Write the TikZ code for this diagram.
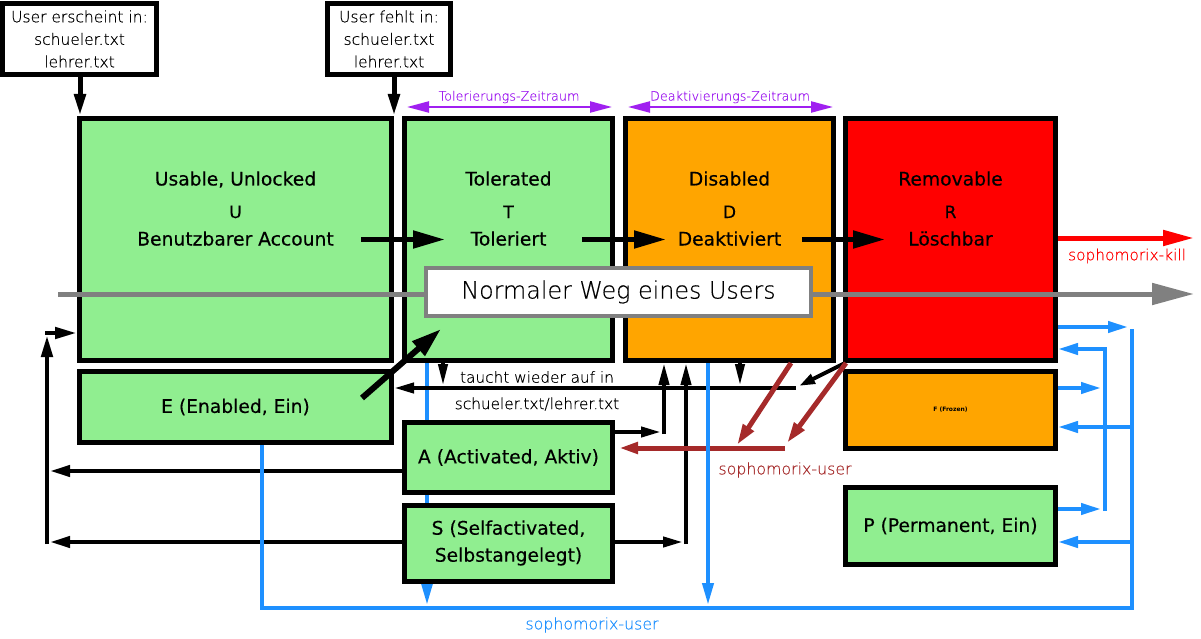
\documentclass[tikz,border=0pt]{standalone}
\usepackage{fontspec}
\setmainfont{DejaVu Sans}
\newfontfamily\lightfont{DejaVu Sans ExtraLight}[FakeBold=0.35]
\newfontfamily\boxfont{DejaVu Sans}[FakeBold=0.35]
\usetikzlibrary{arrows.meta}
\definecolor{lgreen}{HTML}{90EE90}
\definecolor{orng}{HTML}{FFA500}
\definecolor{dblue}{HTML}{1E90FF}
\definecolor{brwn}{HTML}{A52A2A}
\definecolor{purp}{HTML}{A020F0}
\definecolor{grayl}{HTML}{808080}
\begin{document}
\begin{tikzpicture}[x=1pt,y=-1pt,
  box/.style={draw=black,line width=5pt,inner sep=0pt,align=center},
  bigf/.style={font=\boxfont\fontsize{18.7}{27}\selectfont},
  midf/.style={font=\boxfont\fontsize{17}{18}\selectfont},
  lightf/.style={font=\lightfont\fontsize{15.8}{22}\selectfont},
  txt/.style={inner sep=0pt,anchor=base},
  hd/.style={-{Triangle[length=22pt,width=11pt]}},
  bighd/.style={-{Triangle[length=32pt,width=17pt]}},
  blk/.style={draw=black,line width=4.5pt},
  thick5/.style={draw=black,line width=5pt},
  bl/.style={draw=dblue,line width=4pt},
  brl/.style={draw=brwn,line width=5pt},
  brhd/.style={-{Triangle[length=21pt,width=12pt]}},
]
\useasboundingbox (0,0) rectangle (1201,639);

% main boxes
\node[box,fill=white,minimum width=154pt,minimum height=71pt,font=\lightfont\fontsize{15.5}{22.5}\selectfont] (top1) at (79.5,39) {User erscheint in:\\schueler.txt\\lehrer.txt};
\node[box,fill=white,minimum width=123pt,minimum height=71pt,font=\lightfont\fontsize{15.5}{22.5}\selectfont] (top2) at (389,39) {User fehlt in:\\schueler.txt\\lehrer.txt};
\node[box,fill=lgreen,minimum width=312pt,minimum height=242pt] (U) at (235.5,239.5) {};
\node[box,fill=lgreen,minimum width=208pt,minimum height=242pt] (T) at (508.5,239.5) {};
\node[box,fill=orng,minimum width=208pt,minimum height=242pt] (D) at (729.5,239.5) {};
\node[box,fill=red,minimum width=210pt,minimum height=242pt] (R) at (950.5,239.5) {};
\node[box,fill=lgreen,minimum width=312pt,minimum height=71pt,bigf] (E) at (235.5,407) {E (Enabled, Ein)};
\node[box,fill=orng,minimum width=210pt,minimum height=77pt,font=\fontsize{6}{7}\selectfont\bfseries] (F) at (950.5,410) {F (Frozen)};
\node[box,fill=lgreen,minimum width=210pt,minimum height=77pt,bigf] (P) at (950.5,526) {P (Permanent, Ein)};

% blue line from T (behind A and S)
\coordinate (tb) at (427,605);
\draw[bl,hd] (tb |- T.south) -- (tb);

\node[box,fill=lgreen,minimum width=208pt,minimum height=70pt,bigf] (A) at (508.5,457.5) {A (Activated, Aktiv)};
\node[box,fill=lgreen,minimum width=208pt,minimum height=76pt,bigf] (S) at (508.5,543) {S (Selfactivated,\\Selbstangelegt)};

% texts in big boxes
\node[txt,bigf] (Ut1) at (235.5,185.5) {Usable, Unlocked};
\node[txt,midf] (Ut2) at (235.5,218) {U};
\node[txt,bigf] (Ut3) at (235.5,245.5) {Benutzbarer Account};
\node[txt,bigf] (Tt1) at (508.5,185.5) {Tolerated};
\node[txt,midf] (Tt2) at (508.5,218) {T};
\node[txt,bigf] (Tt3) at (508.5,245.5) {Toleriert};
\node[txt,bigf] (Dt1) at (729.5,185.5) {Disabled};
\node[txt,midf] (Dt2) at (729.5,218) {D};
\node[txt,bigf] (Dt3) at (729.5,245.5) {Deaktiviert};
\node[txt,bigf] (Rt1) at (950.5,185.5) {Removable};
\node[txt,midf] (Rt2) at (950.5,218) {R};
\node[txt,bigf] (Rt3) at (950.5,245.5) {Löschbar};

% transitions
\draw[thick5,bighd] ([xshift=-33pt]U.east) -- ([xshift=43pt]T.west);
\draw[thick5,bighd] ([xshift=-33pt]T.east) -- ([xshift=43pt]D.west);
\draw[thick5,bighd] ([xshift=-34pt]D.east) -- ([xshift=42pt]R.west);

% normal way
\coordinate (gs) at (58,294);
\coordinate (ge) at (1194,294);
\draw[draw=grayl,line width=5pt,-{Triangle[length=42pt,width=21pt]}] (gs) -- (ge);
\node[draw=grayl,line width=4pt,fill=white,minimum width=385pt,minimum height=48pt,inner sep=0pt,font=\lightfont\fontsize{23.8}{26}\selectfont] (N) at (618.5,292) {Normaler Weg eines Users};

% kill
\coordinate (ke) at (1194,238);
\draw[draw=red,line width=5pt,-{Triangle[length=31pt,width=15pt]}] (R.east |- ke) -- (ke);
\node[inner sep=0pt,text=red,font=\lightfont\fontsize{15.4}{18}\selectfont] (kl) at (1127,256) {sophomorix-kill};

% time spans
\draw[draw=purp,line width=2.2pt,{Triangle[length=22pt,width=11pt]}-{Triangle[length=22pt,width=11pt]}] ([shift={(5,-9)}]T.north west) -- ([shift={(-3,-9)}]T.north east);
\draw[draw=purp,line width=2.2pt,{Triangle[length=22pt,width=11pt]}-{Triangle[length=22pt,width=11pt]}] ([shift={(5,-9)}]D.north west) -- ([shift={(-3,-9)}]D.north east);
\node[inner sep=0pt,text=purp,font=\lightfont\fontsize{12.8}{14}\selectfont] (tz) at (509,97) {Tolerierungs-Zeitraum};
\node[inner sep=0pt,text=purp,font=\lightfont\fontsize{12.8}{14}\selectfont] (dz) at (730,97) {Deaktivierungs-Zeitraum};

% top arrows
\coordinate (a1) at (80,0);
\draw[thick5,hd] (top1.south -| a1) -- (U.north -| a1);
\draw[thick5,hd] (top2.south -| U.north east) -- (U.north east);

% left loop
\coordinate (lb) at (47,544);
\coordinate (lt) at (47,335);
\coordinate (lr) at (45,333);
\draw[blk,hd] (lb) -- (lt);
\draw[blk,hd] (lr) -- (lr -| U.west);

% A, S to left
\coordinate (al) at (50,471);
\coordinate (sl) at (50,542);
\draw[draw=black,line width=4pt,-{Triangle[length=20pt,width=11pt]}] (al -| A.west) -- (al);
\draw[draw=black,line width=4pt,-{Triangle[length=20pt,width=11pt]}] (sl -| S.west) -- (sl);

% A, S to right and up into D
\coordinate (ar) at (661,432);
\coordinate (au) at (664,434);
\coordinate (sr) at (683,542);
\coordinate (su) at (686,544);
\draw[draw=black,line width=4pt,-{Triangle[length=20pt,width=10pt]}] (ar -| A.east) -- (ar);
\draw[draw=black,line width=4pt,-{Triangle[length=20pt,width=10pt]}] (sr -| S.east) -- (sr);
\draw[draw=black,line width=4pt,-{Triangle[length=22pt,width=10pt]}] (au) -- (au |- D.south);
\draw[draw=black,line width=4pt,-{Triangle[length=22pt,width=10pt]}] (su) -- (su |- D.south);

% reappears line
\coordinate (tl) at (796,388);
\draw[draw=black,line width=4pt,-{Triangle[length=20pt,width=10pt]}] (tl) -- (tl -| E.east);
\coordinate (td) at (443,386);
\coordinate (dd) at (740,386);
\draw[draw=black,line width=4pt,-{Triangle[length=22pt,width=9pt]}] (td |- T.south) -- (td);
\draw[draw=black,line width=4pt,-{Triangle[length=22pt,width=9pt]}] (dd |- D.south) -- (dd);
\coordinate (rt) at (799,386);
\draw[draw=black,line width=4pt,-{Triangle[length=16pt,width=10pt]}] ([xshift=2pt]R.south west) -- (rt);
\node[inner sep=0pt,font=\lightfont\fontsize{15.3}{18}\selectfont] (tw1) at (537,377) {taucht wieder auf in};
\node[inner sep=0pt,font=\lightfont\fontsize{15.3}{18}\selectfont] (tw2) at (537,404) {schueler.txt/lehrer.txt};

% brown sophomorix-user
\coordinate (b1s) at (791,362);
\coordinate (b1e) at (737,445);
\coordinate (b2e) at (787,443);
\coordinate (bh) at (785,448);
\draw[brl,brhd] (b1s |- D.south) -- (b1e);
\draw[brl,brhd] ([xshift=3pt]R.south west) -- (b2e);
\draw[brl,-{Triangle[length=19pt,width=11pt]}] (bh) -- ([xshift=4pt]bh -| A.east);
\node[lightf,inner sep=0pt,text=brwn] (bl2) at (785,470) {sophomorix-user};

% blue network
\coordinate (bbl) at (262,608);
\coordinate (bbr) at (1132,608);
\coordinate (bbt) at (1132,327);
\draw[bl] (bbl |- E.south) -- (bbl) -- (bbr) -- ([yshift=-2pt]bbt);
\draw[bl,-{Triangle[length=20pt,width=11pt]}] (R.east |- bbt) -- ([xshift=-4pt]bbt);
\coordinate (db) at (708,605);
\draw[bl,hd] (db |- D.south) -- (db);
\coordinate (ib1) at (1105,349);
\coordinate (ib2) at (1105,509);
\draw[bl] ([yshift=-2pt]ib2) -- ([yshift=2pt]ib1);
\draw[bl,-{Triangle[length=20pt,width=11pt]}] (ib1) -- (ib1 -| R.east);
\coordinate (fo) at (1101,388);
\coordinate (po) at (1101,509);
\draw[bl,-{Triangle[length=20pt,width=11pt]}] (fo -| F.east) -- (fo);
\draw[bl,-{Triangle[length=20pt,width=11pt]}] (po -| P.east) -- (po);
\coordinate (fi) at (1132,427);
\coordinate (pi) at (1132,542);
\draw[bl,-{Triangle[length=20pt,width=11pt]}] (fi) -- (fi -| F.east);
\draw[bl,-{Triangle[length=20pt,width=11pt]}] (pi) -- (pi -| P.east);
\node[lightf,inner sep=0pt,text=dblue] (bul) at (592,625) {sophomorix-user};

% E to T
\coordinate (et) at (441,329);
\draw[draw=black,line width=6pt,-{Triangle[length=30pt,width=18pt]}] (362,398) coordinate (es) -- (et);
\end{tikzpicture}
\end{document}
